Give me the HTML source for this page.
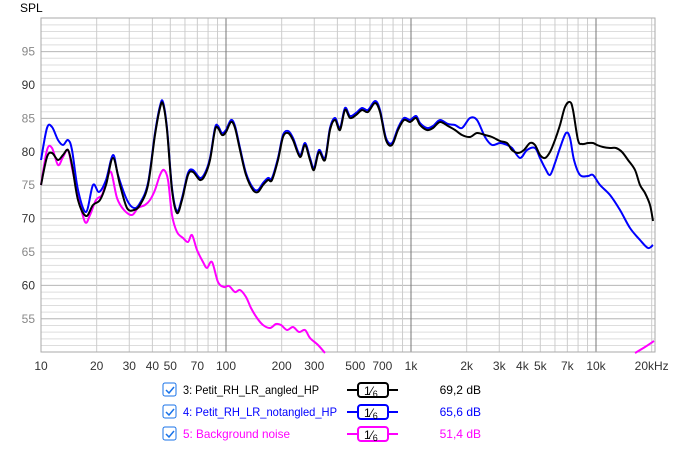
<!DOCTYPE html><html><head><style>body{margin:0;background:#fff;font-family:"Liberation Sans",sans-serif}</style></head><body>
<svg id="s" width="673" height="445" xmlns="http://www.w3.org/2000/svg" font-family="Liberation Sans, sans-serif">
<rect width="673" height="445" fill="#fff"/>
<g id="grid"></g>
<text x="20" y="12" font-size="12" fill="#000">SPL</text>
<g id="curves" fill="none" stroke-width="2" stroke-linejoin="round"></g>
<g font-size="12">
<rect x="163" y="383" width="13" height="13" rx="2" fill="#fff" stroke="#1a73e8"/><path d="M166,390 l3,3 l5,-6" stroke="#1a73e8" stroke-width="1.5" fill="none"/>
<rect x="163" y="405" width="13" height="13" rx="2" fill="#fff" stroke="#1a73e8"/><path d="M166,412 l3,3 l5,-6" stroke="#1a73e8" stroke-width="1.5" fill="none"/>
<rect x="163" y="427" width="13" height="13" rx="2" fill="#fff" stroke="#1a73e8"/><path d="M166,434 l3,3 l5,-6" stroke="#1a73e8" stroke-width="1.5" fill="none"/>
<text x="183" y="394" fill="#000" textLength="136" lengthAdjust="spacingAndGlyphs">3: Petit_RH_LR_angled_HP</text>
<text x="183" y="416" fill="#0000ff" textLength="154" lengthAdjust="spacingAndGlyphs">4: Petit_RH_LR_notangled_HP</text>
<text x="183" y="438" fill="#ff00ff" textLength="107" lengthAdjust="spacingAndGlyphs">5: Background noise</text>
<g stroke-width="2" fill="#fff">
<line x1="347" y1="390" x2="398" y2="390" stroke="#000"/><rect x="358" y="383" width="30" height="14" rx="3" stroke="#000"/>
<line x1="347" y1="412" x2="398" y2="412" stroke="#0000ff"/><rect x="358" y="405" width="30" height="14" rx="3" stroke="#0000ff"/>
<line x1="347" y1="434" x2="398" y2="434" stroke="#ff00ff"/><rect x="358" y="427" width="30" height="14" rx="3" stroke="#ff00ff"/>
</g>
<text x="364" y="395" fill="#000">1⁄<tspan font-size="9" dy="2">6</tspan></text>
<text x="364" y="417" fill="#000">1⁄<tspan font-size="9" dy="2">6</tspan></text>
<text x="364" y="439" fill="#000">1⁄<tspan font-size="9" dy="2">6</tspan></text>
<text x="481" y="394" text-anchor="end" fill="#000">69,2 dB</text>
<text x="481" y="416" text-anchor="end" fill="#0000ff">65,6 dB</text>
<text x="481" y="438" text-anchor="end" fill="#ff00ff">51,4 dB</text>
</g>
</svg>
<script>
var NS="http://www.w3.org/2000/svg",g=document.getElementById('grid'),c=document.getElementById('curves');
function el(p,t,a,txt){var e=document.createElementNS(NS,t);for(var k in a)e.setAttribute(k,a[k]);if(txt)e.textContent=txt;p.appendChild(e);return e;}
var L=41,R=655,T=18,B=352,D=185;
function fx(f){return L+Math.log10(f/10)*D;}
function fy(v){return 85+(90-v)*6.68;}
for(var v=51;v<=99;v++){var y=fy(v);el(g,'line',{x1:L,x2:R,y1:y,y2:y,stroke:'#ddd','stroke-width':1});}
for(var v=55;v<=95;v+=5){var y=fy(v);el(g,'line',{x1:L,x2:R,y1:y,y2:y,stroke:'#bbb','stroke-width':1});el(g,'text',{x:35,y:y+4,'font-size':12,'text-anchor':'end',fill:v%10?'#888':'#333'},''+v);}
[10,100,1000,10000].forEach(function(d){for(var m=1;m<10;m++){var f=d*m;if(f>20000)break;var x=fx(f);el(g,'line',{x1:x,x2:x,y1:T,y2:B,stroke:m==1?'#777':'#ccc','stroke-width':1});}});
el(g,'rect',{x:L,y:T,width:R-L,height:B-T,fill:'none',stroke:'#aaa'});
var lab=[[10,'10'],[20,'20'],[30,'30'],[40,'40'],[50,'50'],[70,'70'],[100,'100'],[200,'200'],[300,'300'],[500,'500'],[700,'700'],[1000,'1k'],[2000,'2k'],[3000,'3k'],[4000,'4k'],[5000,'5k'],[7000,'7k'],[10000,'10k'],[20000,'20kHz']];
lab.forEach(function(l){el(g,'text',{x:fx(l[0]),y:370,'font-size':12,'text-anchor':'middle',fill:'#333'},l[1]);});
function path(p){var d='M'+p[0][0]+','+p[0][1];for(var i=0;i<p.length-1;i++){var p0=p[i-1]||p[i],p1=p[i],p2=p[i+1],p3=p[i+2]||p2;d+=' C'+(p1[0]+(p2[0]-p0[0])/6)+','+(p1[1]+(p2[1]-p0[1])/6)+' '+(p2[0]-(p3[0]-p1[0])/6)+','+(p2[1]-(p3[1]-p1[1])/6)+' '+p2[0]+','+p2[1];}return d;}
var mag=[[41,185],[47,150],[52,148],[58,165],[63,157],[68,150],[72,168],[78,195],[85,222],[90,215],[96,200],[102,195],[106,182],[111,172],[117,198],[124,210],[132,215],[138,208],[145,205],[150,200],[155,190],[160,175],[164,170],[168,180],[172,215],[177,232],[183,238],[188,242],[192,235],[197,250],[203,262],[207,268],[212,262],[218,282],[224,287],[229,286],[235,292],[240,290],[246,297],[251,308],[257,318],[263,325],[270,328],[276,324],[281,325],[287,330],[293,327],[299,332],[305,330],[310,338],[318,345],[325,353]];
var blk=[[41,185],[47,157],[52,153],[58,160],[63,155],[68,150],[72,165],[78,200],[86,216],[93,205],[100,200],[106,185],[113,158],[120,185],[127,208],[134,210],[140,205],[148,185],[155,135],[160,108],[163,104],[167,130],[172,190],[177,213],[182,200],[188,175],[193,172],[200,180],[205,175],[210,160],[215,130],[218,128],[222,135],[226,132],[231,122],[235,128],[240,150],[246,175],[253,190],[258,192],[263,185],[268,180],[272,180],[278,160],[283,137],[288,133],[293,140],[300,157],[305,145],[310,160],[314,170],[319,152],[325,160],[330,130],[335,120],[340,130],[345,110],[350,118],[356,115],[362,110],[368,112],[375,103],[380,112],[386,140],[392,145],[398,130],[404,120],[410,122],[416,118],[420,125],[427,130],[433,128],[440,122],[448,126],[455,130],[462,135],[470,137],[477,133],[485,135],[492,137],[500,141],[507,143],[512,150],[518,153],[524,150],[530,143],[535,145],[540,155],[545,158],[550,152],[555,140],[560,125],[565,107],[570,102],[573,110],[578,140],[582,144],[588,143],[593,143],[597,145],[603,147],[610,148],[616,148],[622,152],[628,160],[635,170],[640,185],[645,193],[650,205],[653,221]];
var blu=[[41,160],[47,128],[52,127],[58,140],[63,145],[68,140],[72,150],[78,190],[86,212],[93,185],[99,192],[106,180],[113,155],[118,175],[127,200]].concat(blk.filter(function(p){return p[0]>127&&p[0]<455;}).map(function(p){return [p[0],p[1]-2];})).concat([[455,125],[462,128],[470,118],[477,120],[485,137],[492,145],[500,143],[507,145],[512,148],[520,158],[527,150],[535,148],[540,158],[545,168],[550,175],[555,163],[560,148],[566,133],[570,138],[574,160],[580,175],[588,176],[593,175],[600,185],[610,195],[620,210],[630,228],[640,240],[648,248],[653,245]]);
el(c,'path',{d:path(mag),stroke:'#ff00ff'});
el(c,'path',{d:path([[635,353],[645,347],[654,341]]),stroke:'#ff00ff'});
el(c,'path',{d:path(blu),stroke:'#0000ff'});
el(c,'path',{d:path(blk),stroke:'#000'});
</script>
</body></html>
